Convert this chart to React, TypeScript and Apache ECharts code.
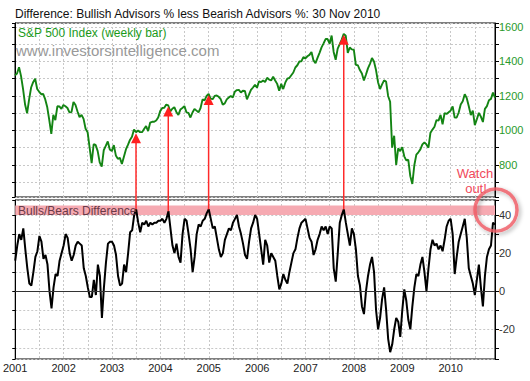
import React, { useEffect, useRef } from "react";
import * as echarts from "echarts";

// Semi-monthly readings (start of month, mid-month) from Jan 2001 to end Nov 2010
const years = [2001, 2002, 2003, 2004, 2005, 2006, 2007, 2008, 2009, 2010];

const spx2001 = [1320, 1330, 1366, 1315, 1240, 1150, 1100, 1180, 1249, 1280, 1300, 1240, 1224, 1210, 1211, 1180, 1134, 1060, 980, 1090, 1060, 1140, 1139, 1125];
const spx2002 = [1148, 1140, 1130, 1105, 1106, 1165, 1147, 1110, 1077, 1090, 1067, 1010, 990, 900, 810, 920, 916, 880, 815, 790, 885, 910, 936, 890];
const spx2003 = [880, 915, 855, 835, 841, 805, 848, 890, 916, 945, 964, 1005, 990, 1000, 990, 990, 1008, 1025, 996, 1045, 1050, 1050, 1058, 1075];
const spx2004 = [1112, 1130, 1131, 1150, 1145, 1110, 1126, 1135, 1107, 1090, 1121, 1130, 1141, 1105, 1102, 1075, 1104, 1125, 1115, 1105, 1130, 1180, 1174, 1200];
const spx2005 = [1212, 1185, 1181, 1200, 1203, 1195, 1181, 1150, 1157, 1180, 1191, 1200, 1191, 1225, 1234, 1235, 1220, 1230, 1229, 1180, 1207, 1235, 1249, 1265];
const spx2006 = [1248, 1285, 1280, 1290, 1281, 1305, 1295, 1290, 1311, 1290, 1270, 1230, 1270, 1240, 1277, 1300, 1304, 1320, 1336, 1365, 1378, 1400, 1401, 1425];
const spx2007 = [1418, 1430, 1438, 1455, 1406, 1390, 1421, 1450, 1482, 1505, 1530, 1530, 1503, 1550, 1455, 1410, 1474, 1500, 1527, 1560, 1549, 1450, 1481, 1470];
const spx2008 = [1468, 1380, 1378, 1350, 1330, 1290, 1323, 1360, 1386, 1420, 1400, 1350, 1280, 1240, 1267, 1290, 1283, 1200, 1166, 900, 969, 800, 896, 880];
const spx2009 = [903, 850, 826, 830, 735, 690, 798, 860, 873, 890, 919, 930, 919, 900, 987, 1005, 1021, 1060, 1057, 1090, 1036, 1100, 1096, 1105];
const spx2010 = [1115, 1140, 1074, 1075, 1104, 1150, 1169, 1210, 1187, 1140, 1089, 1115, 1031, 1065, 1102, 1080, 1049, 1125, 1141, 1175, 1183, 1220, 1190];

const bb2001 = [16, 24, 30, 27, 33, 22, 12, 4, 3, 10, 18, 21, 29, 26, 17, 19, 14, 0, -9, 2, 9, 8, 16, 20];
const bb2002 = [24, 30, 28, 20, 16, 19, 24, 26, 25, 24, 12, 8, 2, -3, -3, 6, -2, 14, 8, -14, 2, 15, 25, 26];
const bb2003 = [26, 24, 19, 8, 3, 4, 14, 10, 20, 31, 32, 40, 43, 36, 31, 36, 35, 37, 34, 36, 35, 36, 36, 37];
const bb2004 = [37, 38, 36, 38, 42, 33, 24, 20, 25, 18, 15, 30, 38, 37, 30, 22, 10, 18, 30, 35, 34, 37, 38, 41];
const bb2005 = [43, 38, 33, 34, 28, 22, 18, 20, 27, 30, 33, 32, 36, 38, 40, 34, 30, 25, 19, 17, 26, 33, 36, 40];
const bb2006 = [38, 30, 22, 14, 27, 24, 15, 20, 18, 16, 8, 1, 4, 9, 6, 4, 10, 15, 20, 22, 28, 33, 36, 37];
const bb2007 = [38, 33, 28, 26, 19, 22, 27, 30, 34, 32, 34, 30, 34, 33, 12, 5, 20, 36, 40, 43, 36, 30, 24, 33];
const bb2008 = [30, 22, 8, 3, -8, -12, 0, 8, 14, 18, 10, -10, -20, -14, -4, 2, -10, -25, -32, -28, -20, -14, -16, -24];
const bb2009 = [-10, 1, -5, -15, -20, -8, 2, 9, 8, 14, 18, 10, 0, 12, 22, 27, 24, 25, 22, 24, 21, 27, 34, 37];
const bb2010 = [38, 30, 9, 18, 26, 30, 34, 38, 28, 12, 8, 4, -2, 6, 14, 2, -8, 8, 18, 22, 24, 36, 35];

// Weeks where the spread peaked and the index topped (arrows)
const signalIdx = [60, 76, 96, 163];

const spx = [...spx2001, ...spx2002, ...spx2003, ...spx2004, ...spx2005, ...spx2006, ...spx2007, ...spx2008, ...spx2009, ...spx2010];
const bb = [...bb2001, ...bb2002, ...bb2003, ...bb2004, ...bb2005, ...bb2006, ...bb2007, ...bb2008, ...bb2009, ...bb2010];

const categories: string[] = [];
years.forEach((y) => {
  for (let m = 1; m <= 12; m++) {
    categories.push(`${y}-${m}a`);
    categories.push(`${y}-${m}b`);
  }
});
categories.length = bb.length;

const FONT = "Liberation Sans, Arial, sans-serif";

export default function App() {
  const ref = useRef<HTMLDivElement>(null);
  useEffect(() => {
    document.body.style.margin = "0";
    const chart = echarts.init(ref.current!, null, { renderer: "svg" });
    const gridLine = { show: true, lineStyle: { color: "#c8c8c8", type: [2, 2] as any, width: 1 } };
    const xBase = (gi: number, labels: boolean) => ({
      type: "category" as const,
      gridIndex: gi,
      data: categories,
      boundaryGap: false,
      axisLine: { show: false },
      axisTick: { show: false },
      axisLabel: {
        show: labels,
        interval: (i: number) => i % 24 === 0,
        formatter: (v: string) => v.slice(0, 4),
        color: "#222",
        fontSize: 11,
        fontFamily: FONT,
        margin: 3,
      },
      splitLine: { ...gridLine, interval: (i: number) => i % 12 === 0 },
    });
    const option: any = {
      animation: false,
      backgroundColor: "#ffffff",
      grid: [
        { left: 15, top: 23, width: 480, height: 174, show: true, borderColor: "#000", borderWidth: 1, backgroundColor: "#fff" },
        { left: 15, top: 200, width: 480, height: 159, show: true, borderColor: "#000", borderWidth: 1, backgroundColor: "#fff" },
      ],
      xAxis: [xBase(0, false), xBase(1, true)],
      yAxis: [
        {
          type: "value", gridIndex: 0, position: "right", min: 614, max: 1623, minInterval: 100, maxInterval: 100,
          axisLine: { show: true, lineStyle: { color: "#000" } },
          axisTick: { show: true, length: 4, lineStyle: { color: "#000" } },
          axisLabel: { formatter: (v: number) => (v % 200 === 0 && v >= 800 ? String(v) : ""), color: "#2a9a2a", fontSize: 11, fontFamily: FONT, margin: 4 },
          splitLine: gridLine,
        },
        {
          type: "value", gridIndex: 0, position: "left", min: 614, max: 1623, minInterval: 100, maxInterval: 100,
          axisLine: { show: true, lineStyle: { color: "#000" } },
          axisTick: { show: true, length: 3, lineStyle: { color: "#000" } },
          axisLabel: { show: false },
          splitLine: { show: false },
        },
        {
          type: "value", gridIndex: 1, position: "right", min: -35.6, max: 47.9, minInterval: 10, maxInterval: 10,
          axisLine: { show: true, lineStyle: { color: "#000" } },
          axisTick: { show: true, length: 4, lineStyle: { color: "#000" } },
          axisLabel: { formatter: (v: number) => (Math.abs(v % 20) < 1e-6 ? String(v) : ""), color: "#333", fontSize: 11, fontFamily: FONT, margin: 4 },
          splitLine: gridLine,
        },
        {
          type: "value", gridIndex: 1, position: "left", min: -35.6, max: 47.9, minInterval: 10, maxInterval: 10,
          axisLine: { show: true, lineStyle: { color: "#000" } },
          axisTick: { show: true, length: 3, lineStyle: { color: "#000" } },
          axisLabel: { show: false },
          splitLine: { show: false },
        },
      ],
      series: [
        {
          type: "line", name: "S&P 500", xAxisIndex: 0, yAxisIndex: 0, data: spx, symbol: "none",
          lineStyle: { color: "#138413", width: 1.9 }, z: 3,
        },
        {
          type: "line", name: "Bulls/Bears", xAxisIndex: 1, yAxisIndex: 2, data: bb, symbol: "none",
          lineStyle: { color: "#000", width: 2 }, z: 3,
          markArea: { silent: true, itemStyle: { color: "#f6aab2" }, data: [[{ yAxis: 40 }, { yAxis: 45 }]] },
          markLine: { silent: true, symbol: "none", label: { show: false }, lineStyle: { color: "#333", type: "solid", width: 1 }, data: [{ yAxis: 0 }] },
        },
      ],
    };
    chart.setOption(option);

    const staticEls: any[] = [
      { type: "text", left: 15, top: 8, z: 100, style: { text: "Difference: Bullish Advisors % less Bearish Advisors %: 30 Nov 2010", fill: "#111", font: `12px ${FONT}` } },
      { type: "text", left: 18, top: 27, z: 100, style: { text: "S&P 500 Index (weekly bar)", fill: "#1a9a1a", font: `12px ${FONT}` } },
      { type: "text", left: 16, top: 43, z: 100, style: { text: "www.investorsintelligence.com", fill: "#999", font: `15px ${FONT}` } },
      { type: "text", left: 18, top: 205, z: 100, style: { text: "Bulls/Bears Difference", fill: "#6a3a48", font: `12px ${FONT}` } },
      { type: "text", x: 475, y: 173, z: 100, style: { text: "Watch", fill: "#f04a5a", font: `13px ${FONT}`, align: "center", verticalAlign: "middle" } },
      { type: "text", x: 476, y: 188, z: 100, style: { text: "out!", fill: "#f04a5a", font: `13px ${FONT}`, align: "center", verticalAlign: "middle" } },
      {
        type: "circle", z: 100, shape: { cx: 496, cy: 210, r: 21 },
        style: { fill: "none", stroke: "rgba(240,90,100,0.8)", lineWidth: 3.5, shadowColor: "rgba(0,0,0,0.35)", shadowBlur: 4, shadowOffsetX: 2, shadowOffsetY: 2 },
      },
    ];
    const arrows: any[] = [];
    signalIdx.forEach((i) => {
      const pTop = chart.convertToPixel({ seriesIndex: 0 }, [i, spx[i]]) as number[];
      const pBot = chart.convertToPixel({ seriesIndex: 1 }, [i, bb[i]]) as number[];
      const x = pTop[0];
      const yTip = pTop[1] + 1;
      arrows.push({ type: "line", z: 90, shape: { x1: x, y1: yTip + 8, x2: x, y2: pBot[1] }, style: { stroke: "#ff2a2a", lineWidth: 1.5 } });
      arrows.push({ type: "polygon", z: 91, shape: { points: [[x, yTip], [x - 5, yTip + 10], [x + 5, yTip + 10]] }, style: { fill: "#ff2020" } });
    });
    chart.setOption({ graphic: { elements: [...staticEls, ...arrows] } });
    return () => chart.dispose();
  }, []);
  return <div ref={ref} style={{ width: 530, height: 381 }} />;
}
